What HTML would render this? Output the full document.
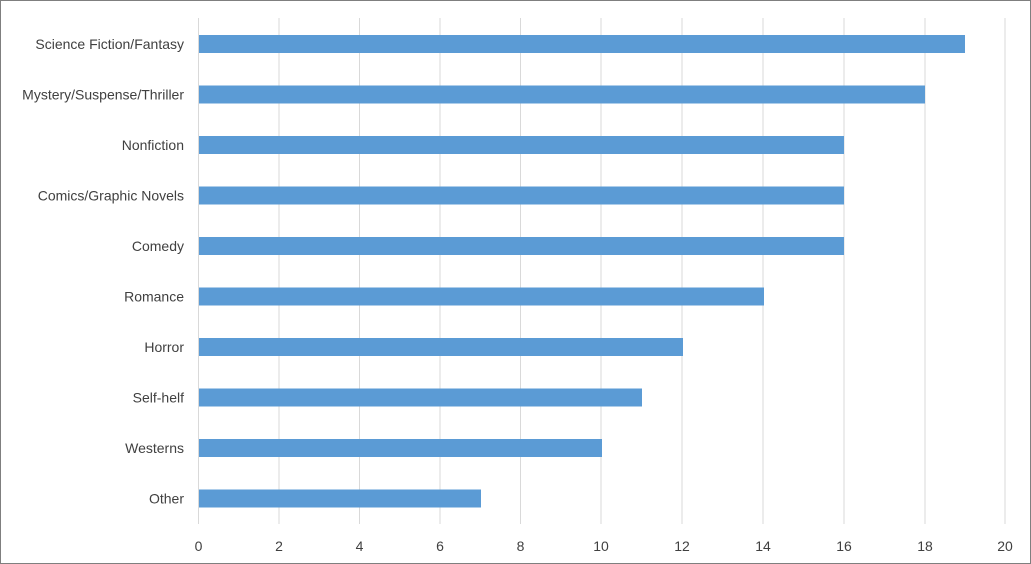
<!DOCTYPE html>
<html><head><style>
body{margin:0;background:#fff}
svg{display:block}
text{font-family:"Liberation Sans",sans-serif;font-size:14px;fill:#404040}
</style></head><body>
<svg width="1031" height="564" viewBox="0 0 1031 564">
<rect x="0.5" y="0.5" width="1030" height="563" fill="#fff" stroke="#7f7f7f"/>
<g stroke="#d9d9d9" stroke-width="1">
<line x1="198.5" y1="18" x2="198.5" y2="524"/>
<line x1="279" y1="18" x2="279" y2="524"/>
<line x1="359.5" y1="18" x2="359.5" y2="524"/>
<line x1="440" y1="18" x2="440" y2="524"/>
<line x1="520.5" y1="18" x2="520.5" y2="524"/>
<line x1="601" y1="18" x2="601" y2="524"/>
<line x1="682" y1="18" x2="682" y2="524"/>
<line x1="763" y1="18" x2="763" y2="524"/>
<line x1="844" y1="18" x2="844" y2="524"/>
<line x1="925" y1="18" x2="925" y2="524"/>
<line x1="1005" y1="18" x2="1005" y2="524"/>
</g>
<g fill="#5b9bd5">
<rect x="199" y="35" width="766" height="18"/>
<rect x="199" y="85.5" width="726" height="18"/>
<rect x="199" y="136" width="645" height="18"/>
<rect x="199" y="186.5" width="645" height="18"/>
<rect x="199" y="237" width="645" height="18"/>
<rect x="199" y="287.5" width="565" height="18"/>
<rect x="199" y="338" width="484" height="18"/>
<rect x="199" y="388.5" width="443" height="18"/>
<rect x="199" y="439" width="403" height="18"/>
<rect x="199" y="489.5" width="282" height="18"/>
</g>
<g text-anchor="end">
<text x="184" y="49">Science Fiction/Fantasy</text>
<text x="184" y="99.5">Mystery/Suspense/Thriller</text>
<text x="184" y="150">Nonfiction</text>
<text x="184" y="200.5">Comics/Graphic Novels</text>
<text x="184" y="251">Comedy</text>
<text x="184" y="301.5">Romance</text>
<text x="184" y="352">Horror</text>
<text x="184" y="402.5">Self-helf</text>
<text x="184" y="453">Westerns</text>
<text x="184" y="503.5">Other</text>
</g>
<g text-anchor="middle">
<text x="198.5" y="551">0</text><text x="279" y="551">2</text><text x="359.5" y="551">4</text>
<text x="440" y="551">6</text><text x="520.5" y="551">8</text><text x="601" y="551">10</text>
<text x="682" y="551">12</text><text x="763" y="551">14</text><text x="844" y="551">16</text>
<text x="925" y="551">18</text><text x="1005" y="551">20</text>
</g>
</svg>
</body></html>
